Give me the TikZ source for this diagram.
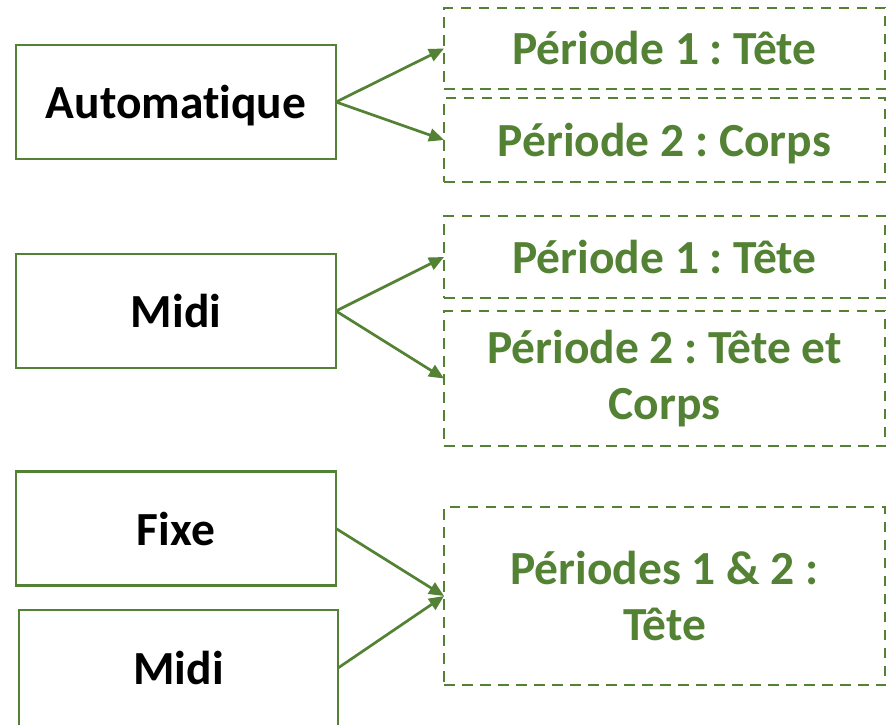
\documentclass[tikz,border=0pt]{standalone}
\usepackage{fontspec}
\setmainfont{Carlito}[Ligatures=NoCommon]
\usetikzlibrary{arrows.meta}
\definecolor{ogreen}{HTML}{548235}
\frenchspacing
\begin{document}
\begin{tikzpicture}[x=1pt,y=-1pt,
  every node/.style={inner sep=0pt,outer sep=0pt,font=\fontsize{47.5}{56}\selectfont\bfseries},
  srcbox/.style={draw=ogreen,line width=2.7pt,rectangle,minimum width=320pt,minimum height=114pt,text=black,text depth=0pt},
  dstbox/.style={draw=ogreen,line width=2.4pt,dash pattern=on 10.5pt off 7.5pt,rectangle,minimum width=441pt,text=ogreen,align=center},
  link/.style={draw=ogreen,line width=2.7pt,-{Triangle[length=15pt,width=13pt]}}]
\clip (0,0) rectangle (887,724);
\fill[white] (0,0) rectangle (887,724);
% source boxes
\node[srcbox] (auto) at (176,102) {Automatique};
\node[srcbox] (midia) at (176,311) {Midi};
\node[srcbox] (fixe) at (176,528.5) {Fixe};
\node[srcbox,minimum width=319pt,minimum height=116pt] (midib) at (178.5,668) {Midi};
% target boxes
\node[dstbox,minimum height=81pt] (d1) at (664.5,48.5) {Période 1 : Tête};
\node[dstbox,minimum height=84pt,text depth=0pt] (d2) at (664.5,140) {Période 2 : Corps};
\node[dstbox,minimum height=82pt] (d3) at (664.5,257) {Période 1 : Tête};
\node[dstbox,minimum height=135pt] (d4) at (664.5,378.5) {Période 2 : Tête et\\Corps};
\node[dstbox,minimum height=178pt] (d5) at (664.5,596) {Périodes 1 \& 2 :\\Tête};
% connectors
\draw[link] (auto.east) -- (d1.west);
\draw[link] (auto.east) -- (d2.west);
\draw[link] (midia.east) -- (d3.west);
\draw[link] (midia.east) -- (d4.west);
\draw[link] (fixe.east) -- (d5.west);
\draw[link] (midib.east) -- (d5.west);
\end{tikzpicture}
\end{document}
